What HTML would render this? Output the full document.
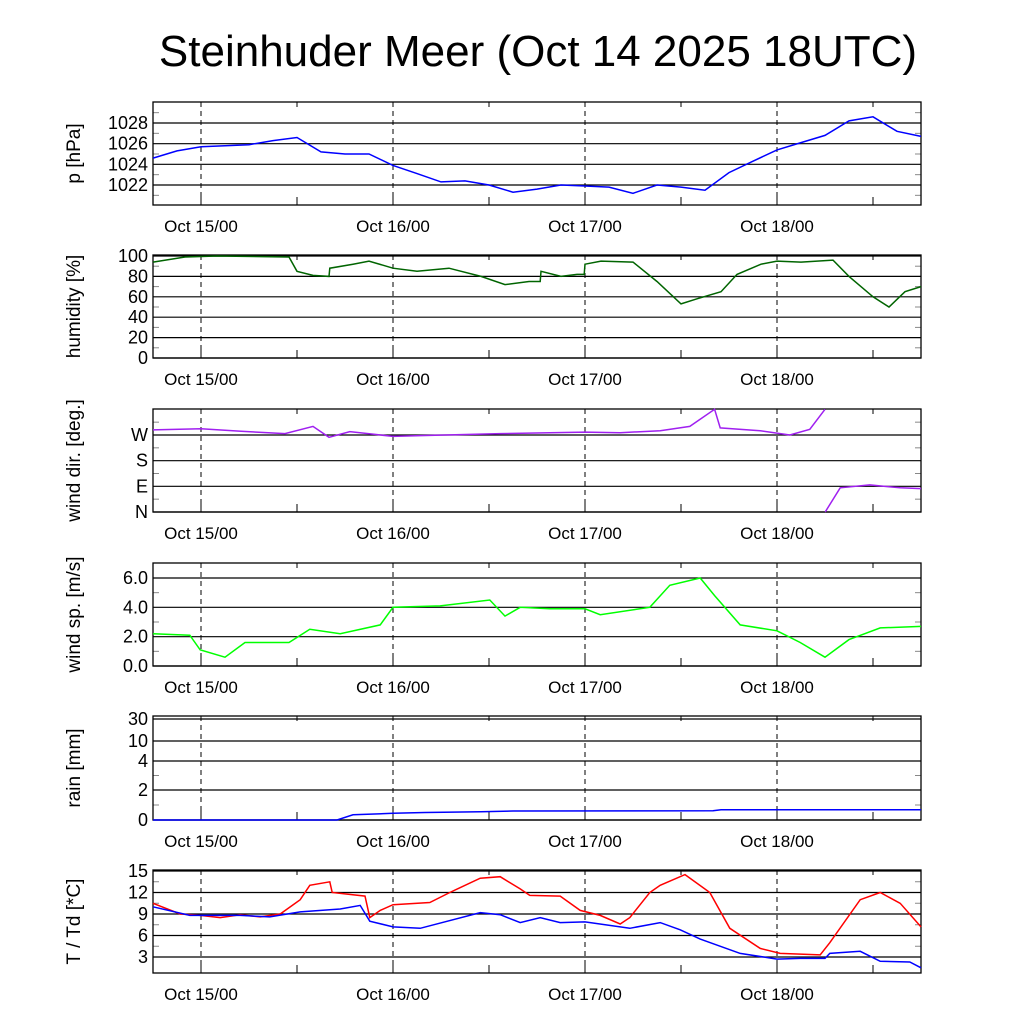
<!DOCTYPE html>
<html><head><meta charset="utf-8"><style>
body{margin:0;background:#fff}
svg text{font-family:"Liberation Sans",sans-serif;fill:#000}
</style></head><body>
<svg id="c" width="1024" height="1024" viewBox="0 0 1024 1024">
<text x="538" y="66" font-size="44" text-anchor="middle">Steinhuder Meer (Oct 14 2025 18UTC)</text>
</svg>
<script>
// time in hours since Oct 14 18UTC
const dayLabels = ["Oct 15/00","Oct 16/00","Oct 17/00","Oct 18/00"];
const dayHours = [6,30,54,78];
const pT=[0,3,6,9,12,15,18,21,24,27,30,33,36,39,42,45,48,51,54,57,60,63,66,69,72,75,78,81,84,87,90,93,96];
const pV=[1024.6,1025.3,1025.7,1025.8,1025.9,1026.3,1026.6,1025.2,1025.0,1025.0,1023.9,1023.1,1022.3,1022.4,1022.0,1021.3,1021.6,1022.0,1021.9,1021.8,1021.2,1022.0,1021.8,1021.5,1023.2,1024.3,1025.4,1026.1,1026.8,1028.2,1028.6,1027.2,1026.7];
const hT=[0,4,8,17,18,20,22,22.1,25,27,30,33,37,41,44,47,48.4,48.5,51,53,53.9,54,56,60,63,66,68,71,73,76,78,81,85,87,90,92,94,96];
const hV=[94,99,100,99,85,81,80,88,92,95,88,85,88,80,72,75,75,85,80,82,82,92,95,94,75,53,58,65,82,92,95,94,96,80,60,50,65,70];
const wdT=[0,6,11,16.5,20,22,24.6,30,33.4,43.4,54,58.4,63.4,67.1,70.2,70.9,75.9,79.6,82.1,84,84.01,84.02,85.9,89.6,93.4,96];
const wdV=[288,292,283,275,300,262,282,265,268,275,280,278,285,300,360,295,285,270,290,360,null,0,85,95,85,82];
const wsT=[0,4.6,5.9,9,11.5,17,19.6,23.4,28.4,30,35.9,42.1,44,45.9,49.6,54,55.9,62.1,64.6,68.4,70.2,73.4,78,80.9,84,87,90.9,96];
const wsV=[2.2,2.1,1.1,0.6,1.6,1.6,2.5,2.2,2.8,4.0,4.1,4.5,3.4,4.0,3.9,3.9,3.5,4.0,5.5,6.0,4.8,2.8,2.4,1.6,0.6,1.8,2.6,2.7];
const rT=[0,23,25,30,34,41,45,70,71,96];
const rV=[0,0,0.35,0.45,0.5,0.55,0.6,0.62,0.68,0.68];
const tT=[0,3.4,5.9,8.4,10.9,13.4,15.9,18.4,19.6,22.1,22.4,26.5,27.1,28.4,30,34.6,37.1,40.9,43.4,45.9,47.1,50.9,53.4,55.9,58.4,59.6,62.1,63.4,66.5,69.6,72.1,75.9,78.4,83.4,84.6,88.4,90.9,93.4,96];
const tV=[10.5,9,8.8,8.5,8.9,8.6,9,11,13,13.5,12,11.5,8.5,9.5,10.3,10.6,12,14,14.2,12.5,11.6,11.5,9.5,8.8,7.6,8.5,12,13,14.5,12,7,4.2,3.5,3.3,5,11,12,10.5,7.2];
const tdT=[0,4.6,10.9,14.6,18.4,23.4,25.9,27.1,30,33.4,40.9,43.4,45.9,48.4,50.9,54,59.6,63.4,65.9,68.4,73.4,78,80.9,84,84.6,88.4,90.9,94.6,96];
const tdV=[10,8.8,8.8,8.6,9.3,9.7,10.2,8,7.2,7.0,9.2,8.9,7.8,8.5,7.8,7.9,7.0,7.8,6.8,5.5,3.5,2.7,2.8,2.8,3.5,3.8,2.4,2.3,1.5];

const NS="http://www.w3.org/2000/svg";
const svg=document.getElementById('c');
const X0=153,X1=921;
const xs=h=>X0+(h/96)*(X1-X0);
function mk(tag,attrs,parent){const e=document.createElementNS(NS,tag);for(const k in attrs)e.setAttribute(k,attrs[k]);(parent||svg).appendChild(e);return e;}

function panel(name,top,bot,ticks,ticklabels,yfun,title,minor){
  const g=mk('g',{});
  
  
  ticks.forEach((t,i)=>{const y=yfun(t);
    const l=mk('line',{x1:X0,x2:X1,y1:y,y2:y,stroke:'#000','stroke-width':1.2},g);
    
    
    const tx=mk('text',{x:148,y:y+6,'font-size':18,'text-anchor':'end'},g);tx.textContent=ticklabels[i];
    
    
  });
  (minor||[]).forEach(t=>{const y=yfun(t);
    mk('line',{x1:X0,x2:X0+6,y1:y,y2:y,stroke:'#888','stroke-width':1},g);
    mk('line',{x1:X1-6,x2:X1,y1:y,y2:y,stroke:'#888','stroke-width':1},g);});
  dayHours.forEach((d,i)=>{const x=xs(d);
    mk('line',{x1:x,x2:x,y1:top,y2:bot,stroke:'#000','stroke-width':1,'stroke-dasharray':'5,4'},g);
    const tx=mk('text',{x:x,y:bot+27,'font-size':17,'text-anchor':'middle'},g);tx.textContent=dayLabels[i];
    
    
    mk('line',{x1:xs(d+12),x2:xs(d+12),y1:bot-8,y2:bot,stroke:'#000'},g);
    mk('line',{x1:xs(d+12),x2:xs(d+12),y1:top,y2:top+5,stroke:'#000'},g);
    mk('line',{x1:x,x2:x,y1:bot-10,y2:bot,stroke:'#000'},g);
  });
  const r=mk('rect',{x:X0,y:top,width:X1-X0,height:bot-top,fill:'none',stroke:'#000','stroke-width':1.3},g);
  
  
  const t=mk('text',{x:0,y:0,'font-size':19,'text-anchor':'middle',transform:`translate(80,${(top+bot)/2}) rotate(-90)`},g);
  t.textContent=title;
  
  
  return g;
}
function line(g,name,T,V,yfun,color,top,bot){
  let d='',pen=false;
  T.forEach((t,i)=>{if(V[i]===null){pen=false;return;}
    let y=Math.max(top,Math.min(bot,yfun(V[i])));
    d+=(pen?'L':'M')+xs(t).toFixed(1)+','+y.toFixed(1);pen=true;});
  const p=mk('path',{d:d,fill:'none',stroke:color,'stroke-width':1.5},g);
  
  
}
const lin=(v0,y0,v1,y1)=>v=>y0+(v-v0)*(y1-y0)/(v1-v0);

let yP=lin(1022,185,1028,123);
let g=panel('pressure',102,205,[1022,1024,1026,1028],['1022','1024','1026','1028'],yP,'p [hPa]',[1021,1023,1025,1027,1029]);
line(g,'pressure-line',pT,pV,yP,'#0000ff',102,205);
let yH=lin(0,358,100,256);
g=panel('humidity',255,358,[0,20,40,60,80,100],['0','20','40','60','80','100'],yH,'humidity [%]',[10,30,50,70,90]);
line(g,'humidity-line',hT,hV,yH,'#006400',255,358);
let yD=lin(0,512,270,435);
g=panel('wind-dir',409,512,[0,90,180,270],['N','E','S','W'],yD,'wind dir. [deg.]',[45,135,225,315]);
line(g,'wind-dir-line',wdT,wdV,yD,'#a020f0',409,512);
let yS=lin(0,666,6,578);
g=panel('wind-speed',563,666,[0,2,4,6],['0.0','2.0','4.0','6.0'],yS,'wind sp. [m/s]',[1,3,5]);
line(g,'wind-speed-line',wsT,wsV,yS,'#00ff00',563,666);
const rainTicks=[0,2,4,10,30];
const rainPix=[820,790,761,741,719];
function yR(v){for(let i=1;i<rainTicks.length;i++){if(v<=rainTicks[i])return rainPix[i-1]+(v-rainTicks[i-1])*(rainPix[i]-rainPix[i-1])/(rainTicks[i]-rainTicks[i-1]);}return rainPix[4];}
g=panel('rain',716,820,rainTicks,['0','2','4','10','30'],yR,'rain [mm]',[1,3]);
line(g,'rain-line',rT,rV,yR,'#0000ff',716,820);
let yT=lin(3,957,15,871);
g=panel('temperature',870,973,[3,6,9,12,15],['3','6','9','12','15'],yT,'T / Td [*C]',[4.5,7.5,10.5,13.5]);
line(g,'temperature-line',tT,tV,yT,'#ff0000',870,973);
line(g,'dewpoint-line',tdT,tdV,yT,'#0000ff',870,973);
</script>
</body></html>
